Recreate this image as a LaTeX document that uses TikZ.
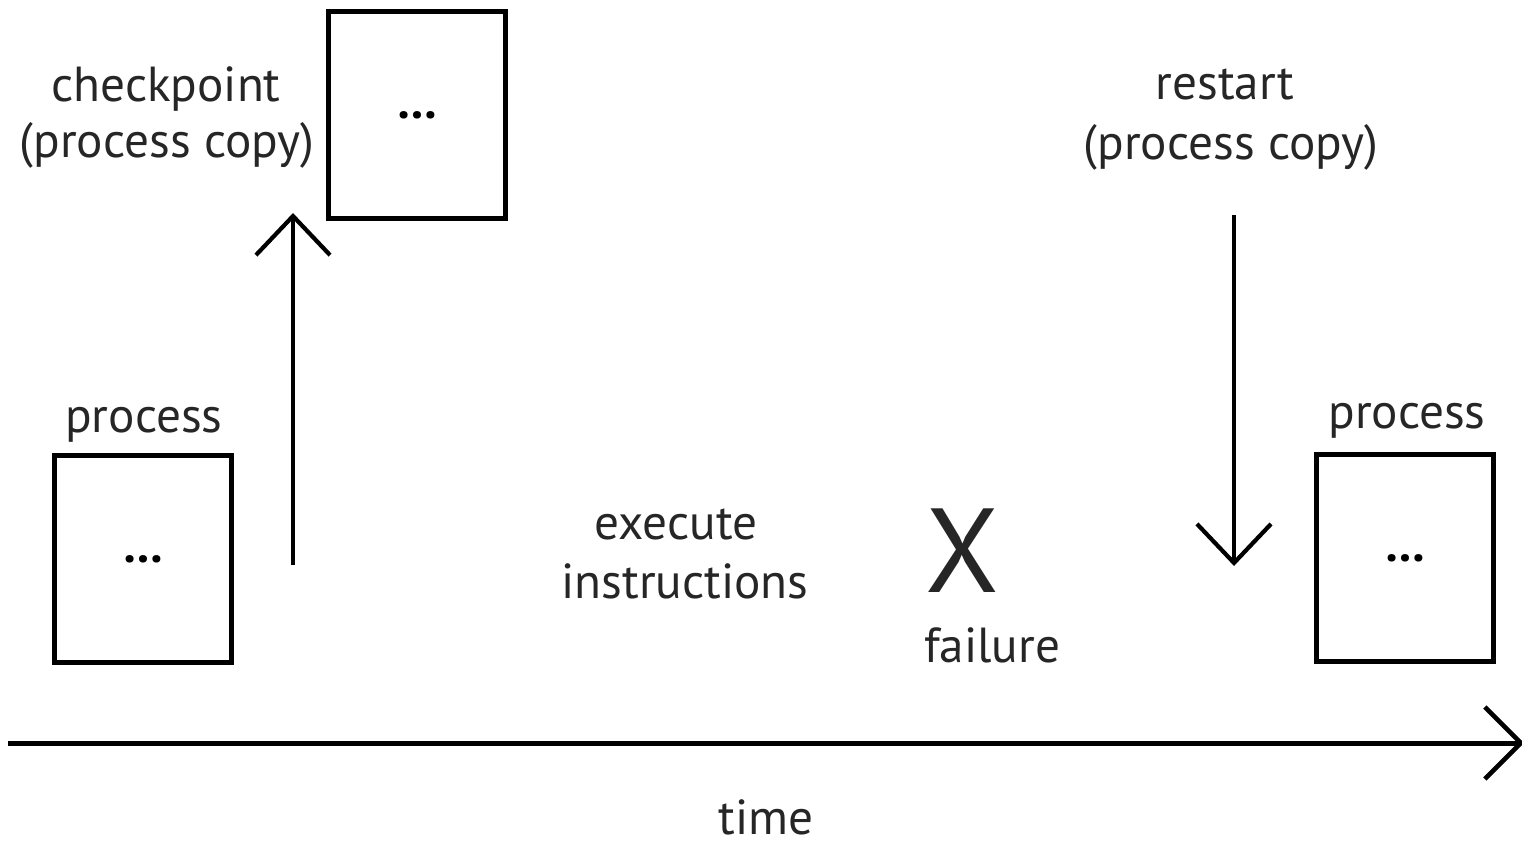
\documentclass[tikz,border=0pt]{standalone}
\usepackage{fontspec}
\setmainfont{PT Sans}
\usetikzlibrary{arrows.meta}

\begin{document}
\begin{tikzpicture}[x=0.01cm, y=-0.01cm,
  label/.style={inner sep=0pt, anchor=base, font=\fontsize{14pt}{17pt}\selectfont, text=black!85},
  procbox/.style={draw, line width=0.05cm, minimum width=1.76cm, minimum height=2.06cm, inner sep=0pt,
                  font=\fontsize{14pt}{17pt}\bfseries\selectfont},
  flow/.style={line width=0.042cm, -{Straight Barb[length=0.39cm, width=0.74cm, line width=0.042cm]}},
  axis/.style={line width=0.05cm, -{Straight Barb[length=0.36cm, width=0.72cm, line width=0.045cm]}}
]
  \useasboundingbox (0,0) rectangle (1522,846);

  % process state boxes
  \node[procbox] (copy)  at (417,115)  {\dots};
  \node[procbox] (start) at (143,559)  {\dots};
  \node[procbox] (again) at (1405,558) {\dots};

  % labels
  \node[label] (ckpt)   at (166,102) {checkpoint};
  \node[label] (ckcopy) at (167,158) {(process copy)};
  \node[label] (rst)    at (1225,100) {restart};
  \node[label] (rscopy) at (1231,160) {(process copy)};
  \node[label] (p1)     at (144,432) {process};
  \node[label] (p2)     at (1407,428) {process};
  \node[label] (exec)   at (676,539) {execute};
  \node[label] (instr)  at (685,598) {instructions};
  \node[label, font=\fontsize{34pt}{40pt}\selectfont] (fail) at (962,592) {X};
  \node[label] (failtx) at (992,662) {failure};
  \node[label] (time)   at (766,834) {time};

  % checkpoint and restart arrows
  \coordinate (upfoot) at (293,565);
  \coordinate (uptip)  at (293,213);
  \coordinate (dnfoot) at (1234,215);
  \coordinate (dntip)  at (1234,566);
  \draw[flow] (upfoot) -- (uptip);
  \draw[flow] (dnfoot) -- (dntip);

  % time axis
  \coordinate (t0) at (8,743);
  \coordinate (t1) at (1524,743);
  \draw[axis] (t0) -- (t1);
\end{tikzpicture}
\end{document}
